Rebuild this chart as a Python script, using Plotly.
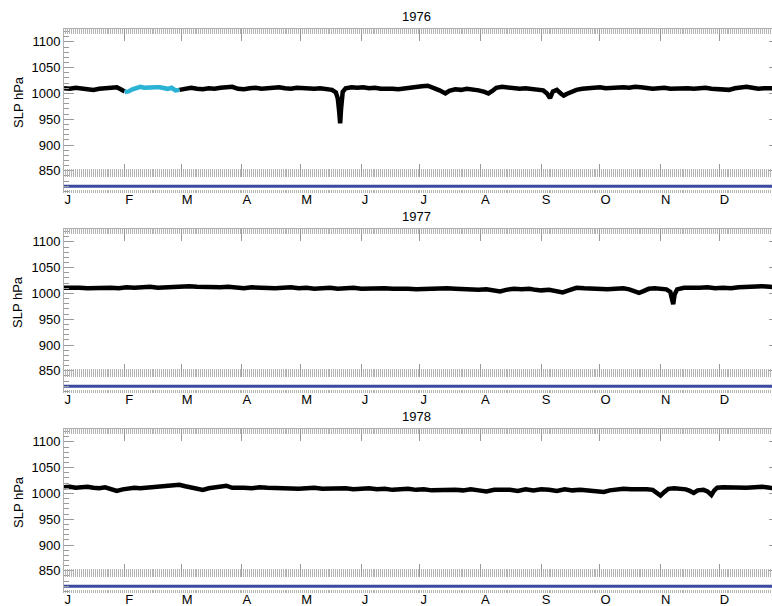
import plotly.graph_objects as go

# ---------------- data ----------------
years = ["1976", "1977", "1978"]
month_starts = [0, 31, 60, 91, 121, 152, 182, 213, 244, 274, 305, 335]
month_labels = ["J", "F", "M", "A", "M", "J", "J", "A", "S", "O", "N", "D"]
slp_ticks = [850, 900, 950, 1000, 1050, 1100]
coverage_days = [0, 366]
coverage_level = [820, 820]

# 1976 (black, January)
days_1976_jan = [0, 3, 6, 9, 12, 15, 18, 21, 24, 27, 29, 31]
slp_1976_jan = [1010, 1009, 1011, 1009, 1008, 1007, 1009, 1010, 1011, 1012, 1008, 1004]
# 1976 highlighted period (cyan, February)
days_1976_feb = [31, 33, 35, 37, 39, 41, 43, 45, 47, 49, 51, 53, 55, 57, 59]
slp_1976_feb = [1003, 1004, 1008, 1011, 1013, 1011, 1012, 1013, 1012, 1012, 1010, 1009, 1011, 1006, 1007]
# 1976 (black, March - December)
days_1976_rest = [59, 62, 65, 68, 71, 74, 77, 80, 83, 86, 89, 92, 95, 98, 101, 104, 107, 110,
                  113, 116, 119, 122, 125, 128, 131, 134, 137, 139, 140, 140.7, 141.2, 141.7,
                  142.5, 144, 147, 150, 153, 156, 159, 162, 165, 168, 171, 174, 177, 180, 183,
                  186, 189, 192, 195, 197, 200, 203, 206, 209, 212, 215, 217, 219, 221, 224,
                  227, 230, 233, 236, 239, 242, 245, 247, 248.5, 250, 252, 254, 255.5, 257,
                  259, 262, 265, 268, 271, 274, 277, 280, 283, 286, 289, 292, 295, 298, 301,
                  304, 307, 310, 313, 316, 319, 322, 325, 328, 331, 334, 337, 340, 343, 346,
                  349, 352, 355, 358, 361, 365]
slp_1976_rest = [1007, 1010, 1011, 1009, 1008, 1010, 1009, 1011, 1012, 1013, 1009, 1008, 1010,
                 1011, 1009, 1010, 1011, 1012, 1010, 1009, 1011, 1010, 1008, 1009, 1010, 1008,
                 1007, 1002, 990, 965, 942, 972, 1003, 1010, 1012, 1011, 1012, 1010, 1011, 1009,
                 1010, 1009, 1008, 1010, 1011, 1012, 1014, 1015, 1011, 1006, 1000, 1005, 1008,
                 1007, 1009, 1008, 1006, 1003, 1000, 1005, 1011, 1013, 1011, 1010, 1009, 1010,
                 1009, 1008, 1006, 1000, 991, 1004, 1007, 1000, 996, 999, 1003, 1007, 1009,
                 1010, 1011, 1012, 1010, 1011, 1010, 1012, 1011, 1013, 1012, 1010, 1009, 1010,
                 1011, 1009, 1010, 1011, 1010, 1009, 1010, 1011, 1009, 1008, 1006, 1007, 1010,
                 1012, 1013, 1011, 1009, 1010, 1009, 1010]

days_1977 = [0, 4, 8, 12, 16, 20, 24, 28, 32, 36, 40, 44, 48, 52, 56, 60, 64, 68, 72, 76, 80,
             84, 88, 92, 96, 100, 104, 108, 112, 116, 120, 124, 128, 132, 136, 140, 144, 148,
             152, 156, 160, 164, 168, 172, 176, 180, 184, 188, 192, 196, 200, 204, 208, 212,
             216, 220, 223, 226, 230, 234, 238, 241, 244, 248, 252, 255, 258, 262, 266, 270,
             274, 278, 282, 286, 289, 291, 294, 296, 299, 302, 305, 308, 310, 311, 311.5,
             312.2, 313.5, 317, 321, 325, 329, 333, 337, 341, 345, 349, 353, 357, 361, 365]
slp_1977 = [1011, 1012, 1011, 1010, 1011, 1012, 1011, 1010, 1012, 1011, 1012, 1013, 1011, 1012,
            1013, 1012, 1014, 1013, 1012, 1011, 1012, 1013, 1011, 1010, 1012, 1011, 1012, 1010,
            1011, 1012, 1010, 1011, 1009, 1010, 1011, 1009, 1010, 1011, 1009, 1010, 1011, 1010,
            1009, 1010, 1009, 1008, 1009, 1008, 1009, 1010, 1009, 1008, 1009, 1007, 1008, 1006,
            1004, 1007, 1009, 1008, 1009, 1007, 1006, 1007, 1004, 1002, 1006, 1011, 1010, 1009,
            1010, 1008, 1009, 1010, 1008, 1006, 1001, 1004, 1009, 1010, 1009, 1008, 1003, 990,
            979, 998, 1008, 1011, 1010, 1011, 1012, 1010, 1011, 1010, 1012, 1013, 1012, 1014,
            1013, 1012]

days_1978 = [0, 3, 6, 9, 12, 15, 18, 21, 24, 27, 30, 33, 36, 39, 42, 45, 48, 51, 54, 57, 59,
             62, 65, 68, 71, 74, 77, 80, 83, 86, 89, 92, 96, 100, 104, 108, 112, 116, 120, 124,
             128, 132, 136, 140, 144, 148, 152, 156, 160, 164, 168, 172, 176, 180, 184, 188,
             192, 196, 200, 204, 208, 212, 216, 220, 224, 228, 232, 236, 240, 244, 248, 252,
             256, 260, 264, 268, 272, 276, 279, 282, 286, 290, 294, 298, 301, 303, 305, 307,
             309, 312, 315, 318, 320, 322, 324, 327, 329, 331, 332.5, 334, 337, 341, 345, 349,
             353, 357, 361, 365]
slp_1978 = [1012, 1013, 1011, 1012, 1013, 1011, 1010, 1012, 1009, 1005, 1008, 1010, 1011, 1010,
            1011, 1012, 1014, 1015, 1014, 1016, 1017, 1014, 1011, 1009, 1007, 1010, 1011, 1012,
            1015, 1011, 1010, 1011, 1010, 1012, 1011, 1010, 1011, 1010, 1009, 1010, 1011, 1009,
            1010, 1009, 1010, 1008, 1009, 1010, 1008, 1009, 1007, 1008, 1009, 1007, 1008, 1006,
            1007, 1008, 1007, 1006, 1008, 1006, 1004, 1007, 1008, 1007, 1005, 1008, 1006, 1008,
            1007, 1005, 1008, 1006, 1007, 1006, 1005, 1003, 1006, 1008, 1009, 1008, 1009, 1008,
            1007, 1002, 996, 1003, 1009, 1010, 1009, 1008, 1005, 1001, 1006, 1007, 1004, 997,
            1006, 1011, 1012, 1011, 1012, 1011, 1012, 1013, 1011, 1010]

panel_series = [
    [(days_1976_jan, slp_1976_jan, "black"),
     (days_1976_rest, slp_1976_rest, "black"),
     (days_1976_feb, slp_1976_feb, "#2bb3d5")],
    [(days_1977, slp_1977, "black")],
    [(days_1978, slp_1978, "black")],
]

# ---------------- layout constants ----------------
W, H = 772, 606
PLOT_LEFT = 64
PANEL_TOPS = [29, 229, 429]
PANEL_H = 164
X_RANGE = [0, 362]
Y_RANGE = [807, 1125]
RULER_PX = 176.5
MINORGRAY = "#b4b4b4"
GRAY = "#9a9a9a"
LINEGRAY = "#b0b0b0"
BLUE = "#3a4aa0"
FONT = "Liberation Sans, Arial, Helvetica, sans-serif"


def ax_ref(prefix, n):
    return prefix if n == 1 else f"{prefix}{n}"


def ax_key(prefix, n):
    return f"{prefix}axis" if n == 1 else f"{prefix}axis{n}"


def minor_x(ln):
    return dict(tickmode="linear", tick0=0, dtick=1, ticks="inside",
                ticklen=ln, tickcolor=MINORGRAY, tickwidth=1, showgrid=False)


fig = go.Figure()
layout = dict(
    width=W, height=H, margin=dict(l=0, r=0, t=0, b=0),
    plot_bgcolor="white", paper_bgcolor="white", showlegend=False,
    font=dict(family=FONT, size=13, color="black"),
    annotations=[],
)

xd0 = PLOT_LEFT / W
for k in range(3):
    top = PANEL_TOPS[k]
    ydom = [1 - (top + PANEL_H) / H, 1 - top / H]
    xm, xt, xr = 3 * k + 1, 3 * k + 2, 3 * k + 3
    yl, yr = 2 * k + 1, 2 * k + 2

    layout[ax_key("x", xm)] = dict(
        domain=[xd0, 1], range=X_RANGE, anchor=ax_ref("y", yl),
        tickmode="array", tickvals=month_starts, ticktext=month_labels,
        ticks="inside", ticklen=3, tickcolor=MINORGRAY, tickwidth=1,
        minor=minor_x(3), ticklabelposition="outside right", ticklabelstandoff=-3,
        showline=False, showgrid=False, zeroline=False,
        tickfont=dict(size=13, color="black"),
    )
    layout[ax_key("x", xt)] = dict(
        overlaying=ax_ref("x", xm), side="top", anchor=ax_ref("y", yl), range=X_RANGE,
        tickmode="array", tickvals=month_starts, ticks="inside", ticklen=12,
        tickcolor=GRAY, tickwidth=1, minor=minor_x(5), showticklabels=False,
        showline=True, linecolor=LINEGRAY, linewidth=1, showgrid=False, zeroline=False,
    )
    ruler_px = top + (RULER_PX - 29)
    layout[ax_key("x", xr)] = dict(
        overlaying=ax_ref("x", xm), side="bottom", anchor="free", position=1 - ruler_px / H,
        range=X_RANGE, tickmode="array", tickvals=month_starts, ticks="inside", ticklen=13,
        tickcolor=GRAY, tickwidth=1, minor=minor_x(8), showticklabels=False,
        showline=False, showgrid=False, zeroline=False,
    )
    layout[ax_key("y", yl)] = dict(
        domain=ydom, range=Y_RANGE, anchor=ax_ref("x", xm),
        tickmode="array", tickvals=slp_ticks, ticks="inside", ticklen=10,
        tickcolor=GRAY, tickwidth=1,
        minor=dict(tickmode="linear", tick0=800, dtick=10, ticks="inside", ticklen=5,
                   tickcolor=GRAY, tickwidth=1, showgrid=False),
        showline=True, linecolor=LINEGRAY, linewidth=1, showgrid=False, zeroline=False,
        tickfont=dict(size=13, color="black"),
    )
    layout[ax_key("y", yr)] = dict(
        overlaying=ax_ref("y", yl), side="right", anchor=ax_ref("x", xm), range=Y_RANGE,
        tickmode="array", tickvals=slp_ticks, ticks="inside", ticklen=3,
        tickcolor=GRAY, tickwidth=1, showticklabels=False,
        showline=False, showgrid=False, zeroline=False,
    )

    # placeholder traces so the overlay axes are drawn
    for (xa, ya) in [(xt, yl), (xr, yl), (xm, yr)]:
        fig.add_trace(go.Scatter(x=[None], y=[None], mode="lines", hoverinfo="skip",
                                 xaxis=ax_ref("x", xa), yaxis=ax_ref("y", ya)))

    # coverage bar
    fig.add_trace(go.Scatter(x=coverage_days, y=coverage_level, mode="lines",
                             line=dict(color=BLUE, width=3), hoverinfo="skip",
                             xaxis=ax_ref("x", xm), yaxis=ax_ref("y", yl)))
    for days, vals, col in panel_series[k]:
        fig.add_trace(go.Scatter(x=days, y=vals, mode="lines",
                                 line=dict(color=col, width=4.5),
                                 xaxis=ax_ref("x", xm), yaxis=ax_ref("y", yl)))

    layout["annotations"].append(dict(
        text=years[k], xref="paper", yref="paper", x=416 / W, y=1 - (top - 12) / H,
        xanchor="center", yanchor="middle", showarrow=False, font=dict(size=13, color="black")))
    layout["annotations"].append(dict(
        text="SLP hPa", xref="paper", yref="paper", x=18 / W, y=1 - (top + 73) / H,
        xanchor="center", yanchor="middle", textangle=-90, showarrow=False,
        font=dict(size=13, color="black")))

fig.update_layout(**layout)
fig.write_html("out.html")
